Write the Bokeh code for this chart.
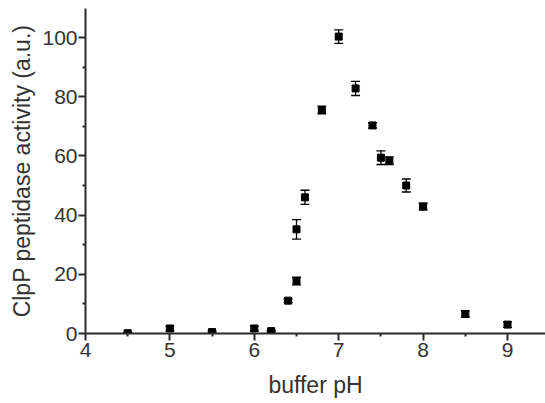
from bokeh.plotting import figure
from bokeh.models import ColumnDataSource, Whisker, TeeHead, Range1d, FixedTicker
from bokeh.embed import file_html
from bokeh.resources import INLINE

ph = [4.5, 5.0, 5.5, 6.0, 6.2, 6.4, 6.5, 6.5, 6.6, 6.8, 7.0, 7.2, 7.4, 7.5, 7.6, 7.8, 8.0, 8.5, 9.0]
activity = [0.1, 1.7, 0.5, 1.7, 0.8, 11.1, 17.7, 35.2, 46.0, 75.5, 100.3, 82.8, 70.3, 59.4, 58.4, 50.0, 42.9, 6.6, 3.0]
error = [0.3, 0.8, 0.3, 0.8, 0.3, 0.7, 1.3, 3.3, 2.4, 1.3, 2.3, 2.4, 0.9, 2.3, 1.3, 2.2, 1.1, 1.1, 0.9]
x_ticks = [4, 5, 6, 7, 8, 9]
y_ticks = [0, 20, 40, 60, 80, 100]

src = ColumnDataSource(dict(
    x=ph, y=activity,
    upper=[a + e for a, e in zip(activity, error)],
    lower=[a - e for a, e in zip(activity, error)],
))

p = figure(width=545, height=403, output_backend="svg", toolbar_location=None,
           x_range=Range1d(4, 9.45), y_range=Range1d(0, 109.8),
           min_border_left=85, min_border_top=8, min_border_right=0, min_border_bottom=70)
p.outline_line_color = None
p.grid.grid_line_color = None
p.background_fill_color = "white"

w = Whisker(source=src, base="x", upper="upper", lower="lower",
            line_color="black", line_width=1.3,
            upper_head=TeeHead(size=9, line_color="black", line_width=1.3),
            lower_head=TeeHead(size=9, line_color="black", line_width=1.3))
w.level = "underlay"
p.add_layout(w)

p.scatter("x", "y", source=src, marker="square", size=7, color="black")

for ax in (p.xaxis[0], p.yaxis[0]):
    ax.axis_line_width = 2
    ax.axis_line_color = "#2a2a2a"
    ax.major_tick_line_color = "#2a2a2a"
    ax.minor_tick_line_color = "#2a2a2a"
    ax.major_tick_line_width = 2
    ax.minor_tick_line_width = 2
    ax.major_tick_out = 7
    ax.major_tick_in = 0
    ax.minor_tick_out = 3
    ax.minor_tick_in = 0
    ax.major_label_text_font = "Liberation Sans"
    ax.major_label_text_font_size = "21px"
    ax.major_label_text_color = "#333333"
    ax.axis_label_text_font = "Liberation Sans"
    ax.axis_label_text_font_size = "23px"
    ax.axis_label_text_font_style = "normal"
    ax.axis_label_text_color = "#333333"

p.xaxis.ticker = FixedTicker(ticks=x_ticks, minor_ticks=[4.5, 5.5, 6.5, 7.5, 8.5])
p.yaxis.ticker = FixedTicker(ticks=y_ticks, minor_ticks=[10, 30, 50, 70, 90])
p.xaxis.axis_label = "buffer pH"
p.yaxis.axis_label = "ClpP peptidase activity (a.u.)"
p.xaxis.major_label_standoff = 2
p.yaxis.major_label_standoff = 1
p.xaxis.axis_label_standoff = 12
p.yaxis.axis_label_standoff = 4

open("out.html", "w").write(file_html(p, INLINE))
